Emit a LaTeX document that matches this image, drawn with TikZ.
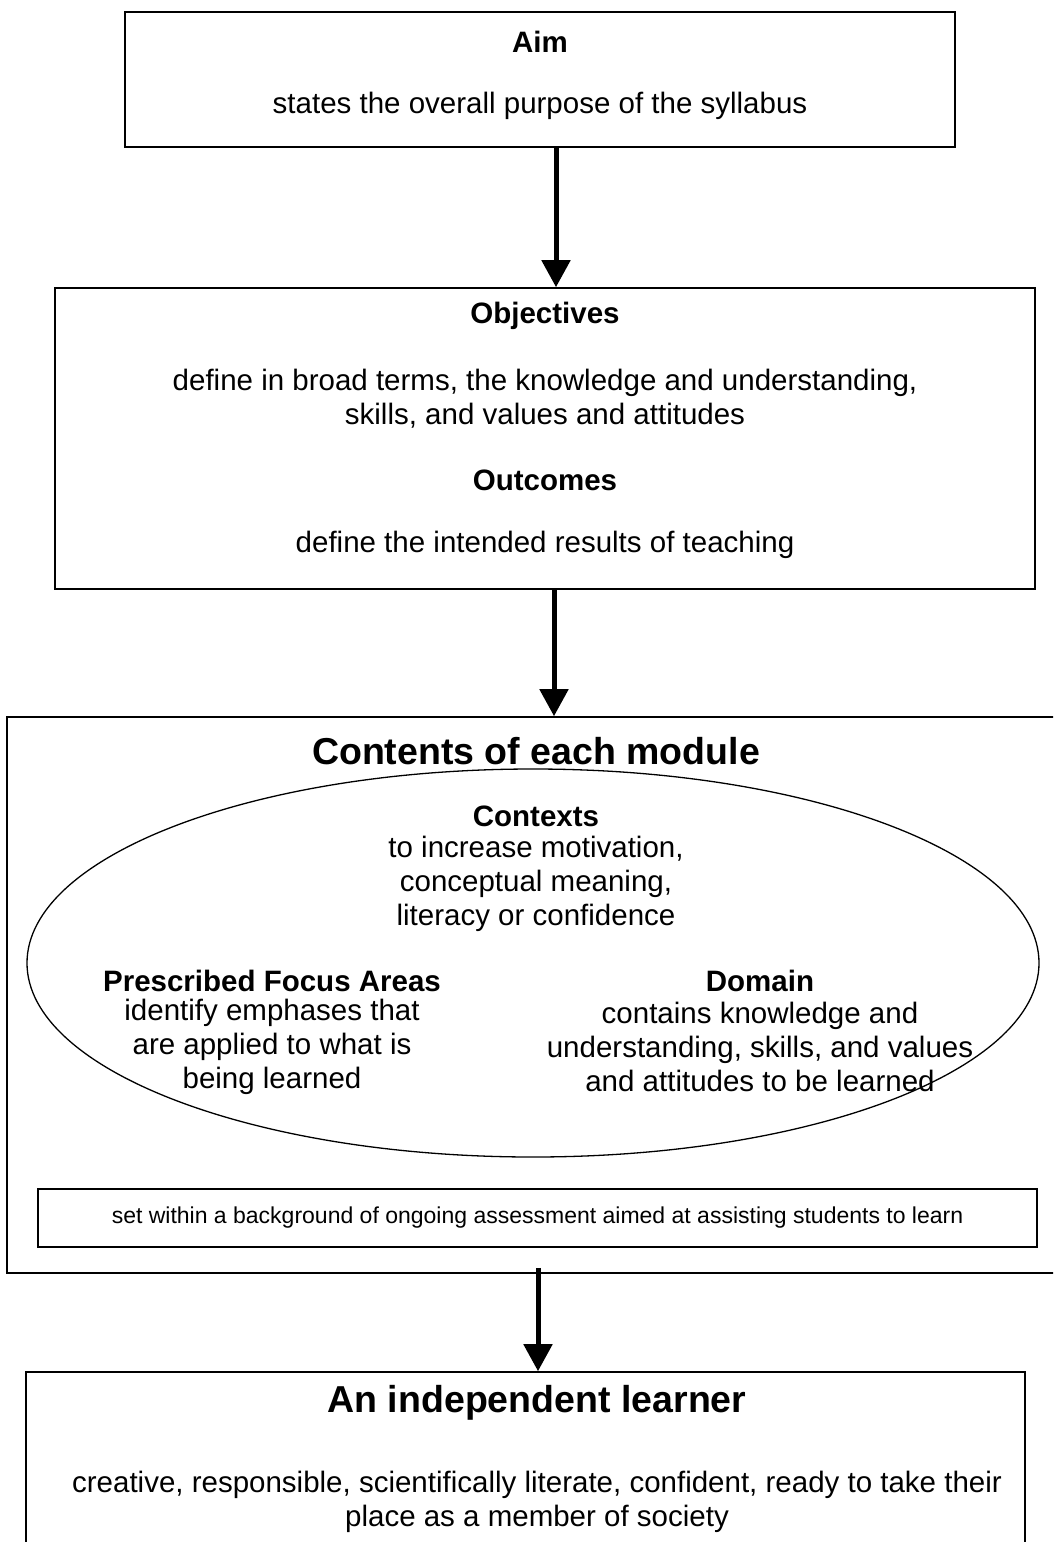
\documentclass[tikz,border=0pt]{standalone}
\usepackage{fontspec}
\setmainfont{Liberation Sans}
\usetikzlibrary{arrows.meta,shapes.geometric}

\tikzset{
  box/.style={draw,line width=1.6pt,rectangle,inner sep=0pt},
  flow/.style={line width=5pt,-{Triangle[length=27pt,width=28pt]}},
  txt/.style={font=\fontsize{29.5}{34}\selectfont,align=center,inner sep=0pt},
  head/.style={txt,font=\fontsize{29.5}{34}\selectfont\bfseries},
  big/.style={txt,font=\fontsize{37.5}{43}\selectfont\bfseries},
  small/.style={txt,font=\fontsize{23}{27}\selectfont},
}

\begin{document}
\begin{tikzpicture}[x=1pt,y=-1pt]
  \clip (0,0) rectangle (1053,1542);

  % boxes
  \node[box,minimum width=830pt,minimum height=135pt] (aim) at (540,79.5) {};
  \node[box,minimum width=980pt,minimum height=301pt] (obj) at (545,438.5) {};
  \node[box,minimum width=1056pt,minimum height=556pt] (mod) at (535,995) {};
  \node[draw,line width=1.3pt,ellipse,inner sep=0pt,minimum width=1012pt,minimum height=388pt] (ctx) at (533,963) {};
  \node[box,small,minimum width=999pt,minimum height=58pt] (note) at (537.5,1218)
    {set within a background of ongoing assessment aimed at assisting students to learn};
  \node[box,minimum width=999pt,minimum height=190pt] (lrn) at (525.5,1467) {};

  % texts
  \node[head] (aimT) at (540,42) {Aim};
  \node[txt] (aimD) at (540,106) {states the overall purpose of the syllabus};

  \node[head] (objT) at (545,316) {Objectives};
  \node[txt] (objD) at (545,399) {define in broad terms, the knowledge and understanding,\\skills, and values and attitudes};
  \node[head] (outT) at (545,480) {Outcomes};
  \node[txt] (outD) at (545,545) {define the intended results of teaching};

  \node[big] (modT) at (536,751) {Contents of each module};
  \node[head] (ctxT) at (536,816) {Contexts};
  \node[txt] (ctxD) at (536,884) {to increase motivation,\\conceptual meaning,\\literacy or confidence};
  \node[head] (pfaT) at (272,981) {Prescribed Focus Areas};
  \node[txt] (pfaD) at (272,1047) {identify emphases that\\are applied to what is\\being learned};
  \node[head] (domT) at (760,981) {Domain};
  \node[txt] (domD) at (760,1047) {contains knowledge and\\understanding, skills, and values\\and attitudes to be learned};

  \node[big] (lrnT) at (537,1403) {An independent learner};
  \node[txt] (lrnD) at (537,1502) {creative, responsible, scientifically literate, confident, ready to take their\\place as a member of society};

  % arrows
  \draw[flow] ([xshift=16pt]aim.south) -- ([xshift=16pt]aim.south |- obj.north);
  \draw[flow] ([xshift=9pt]obj.south) -- ([xshift=9pt]obj.south |- mod.north);
  \draw[flow] ([xshift=3pt,yshift=6pt]mod.south) -- ([xshift=3pt]mod.south |- lrn.north);
\end{tikzpicture}
\end{document}
